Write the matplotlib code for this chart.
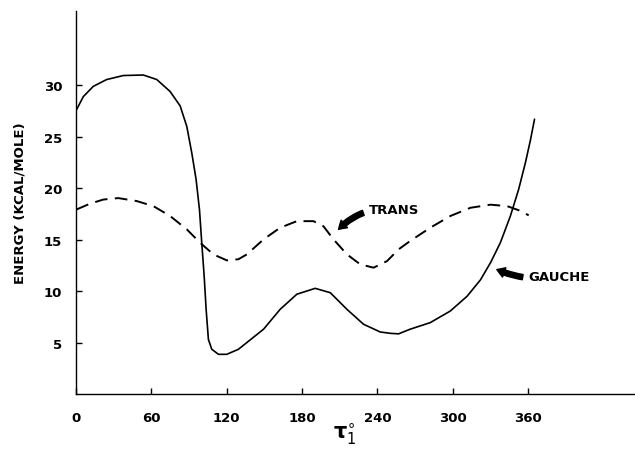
import matplotlib
matplotlib.use("Agg")
import matplotlib.pyplot as plt

# torsion angle tau1 (degrees) and energy (kcal/mole)
gauche_deg = [0.5, 5.8, 13.8, 24.4, 37.7, 53.6, 64.3, 74.9, 82.9, 88.2, 92.2,
              95.6, 98.3, 100.1, 102, 103.6, 105.4, 108.1, 113.4, 120, 129.3,
              149.3, 162.5, 175.8, 190.4, 202.4, 215.7, 228.9, 242.2, 250.2,
              256.8, 266, 282, 298, 311.3, 322, 330, 337.8, 345.8, 352.4,
              357.8, 361.8, 365]
gauche_e = [27.65, 28.9, 29.9, 30.56, 30.95, 31.0, 30.56, 29.4, 28.0, 26.0,
            23.4, 20.85, 17.9, 14.7, 11.5, 8.2, 5.3, 4.35, 3.86, 3.86, 4.35,
            6.3, 8.23, 9.7, 10.27, 9.85, 8.23, 6.78, 6.03, 5.9, 5.85, 6.3,
            6.94, 8.07, 9.5, 11.1, 12.77, 14.7, 17.3, 19.9, 22.5, 24.7, 26.7]

trans_deg = [0.5, 11.2, 21.8, 33.7, 48.4, 61.6, 74.9, 88.2, 98.8, 109.4, 120,
             129.3, 136, 149.3, 162.5, 175.8, 189, 197, 205, 215.7, 226.3,
             236.9, 247.6, 256.8, 266, 282, 298, 314, 330, 343.2, 353.8,
             360.4]
trans_e = [17.94, 18.5, 18.9, 19.04, 18.75, 18.26, 17.3, 16.0, 14.7, 13.57,
           12.99, 13.1, 13.57, 15.03, 16.16, 16.8, 16.8, 16.3, 15.03, 13.57,
           12.6, 12.28, 12.92, 14.06, 14.87, 16.16, 17.3, 18.1, 18.4, 18.26,
           17.8, 17.36]

x_ticks = [0, 60, 120, 180, 240, 300, 360]
y_ticks = [5, 10, 15, 20, 25, 30]

FONT = "DejaVu Sans"
ARROW = "simple,head_length=0.6,head_width=0.75,tail_width=0.4"

fig = plt.figure(figsize=(6.35, 4.52), dpi=100)
ax = fig.add_axes([0.1197, 0.126, 0.8803, 0.847])

ax.plot(gauche_deg, gauche_e, color="black", lw=1.2,
        solid_joinstyle="round", solid_capstyle="round")
ax.plot(trans_deg, trans_e, color="black", lw=1.4,
        linestyle=(0, (6.5, 3.8)), dash_joinstyle="round")

ax.set_xlim(0, 445)
ax.set_ylim(0, 37.2)
ax.spines["top"].set_visible(False)
ax.spines["right"].set_visible(False)
ax.spines["left"].set_linewidth(1.0)
ax.spines["bottom"].set_linewidth(1.0)

ax.set_xticks(x_ticks)
ax.set_yticks(y_ticks)
ax.tick_params(direction="in", length=4, width=1, pad=12, labelsize=9.5)
ax.tick_params(axis="y", pad=10)
for lbl in ax.get_xticklabels() + ax.get_yticklabels():
    lbl.set_fontfamily(FONT)
    lbl.set_fontweight("bold")

ax.set_ylabel("ENERGY (KCAL/MOLE)", fontsize=9.5, family=FONT,
              fontweight="bold", labelpad=12)
ax.text(214, -3.8, r"$\mathbf{\tau}_{1}^{\circ}$", fontsize=15, ha="center",
        va="center", clip_on=False)

ax.annotate("TRANS", xy=(209, 16.0), xytext=(233, 17.9), fontsize=9.5,
            family=FONT, fontweight="bold", va="center", ha="left",
            arrowprops=dict(arrowstyle=ARROW, color="black",
                            connectionstyle="arc3,rad=0.25",
                            shrinkA=2, shrinkB=0))
ax.annotate("GAUCHE", xy=(335, 12.1), xytext=(360, 11.4), fontsize=9.5,
            family=FONT, fontweight="bold", va="center", ha="left",
            arrowprops=dict(arrowstyle=ARROW, color="black",
                            connectionstyle="arc3,rad=-0.15",
                            shrinkA=2, shrinkB=0))

fig.savefig("out.png", dpi=100, facecolor="white")
plt.close(fig)
